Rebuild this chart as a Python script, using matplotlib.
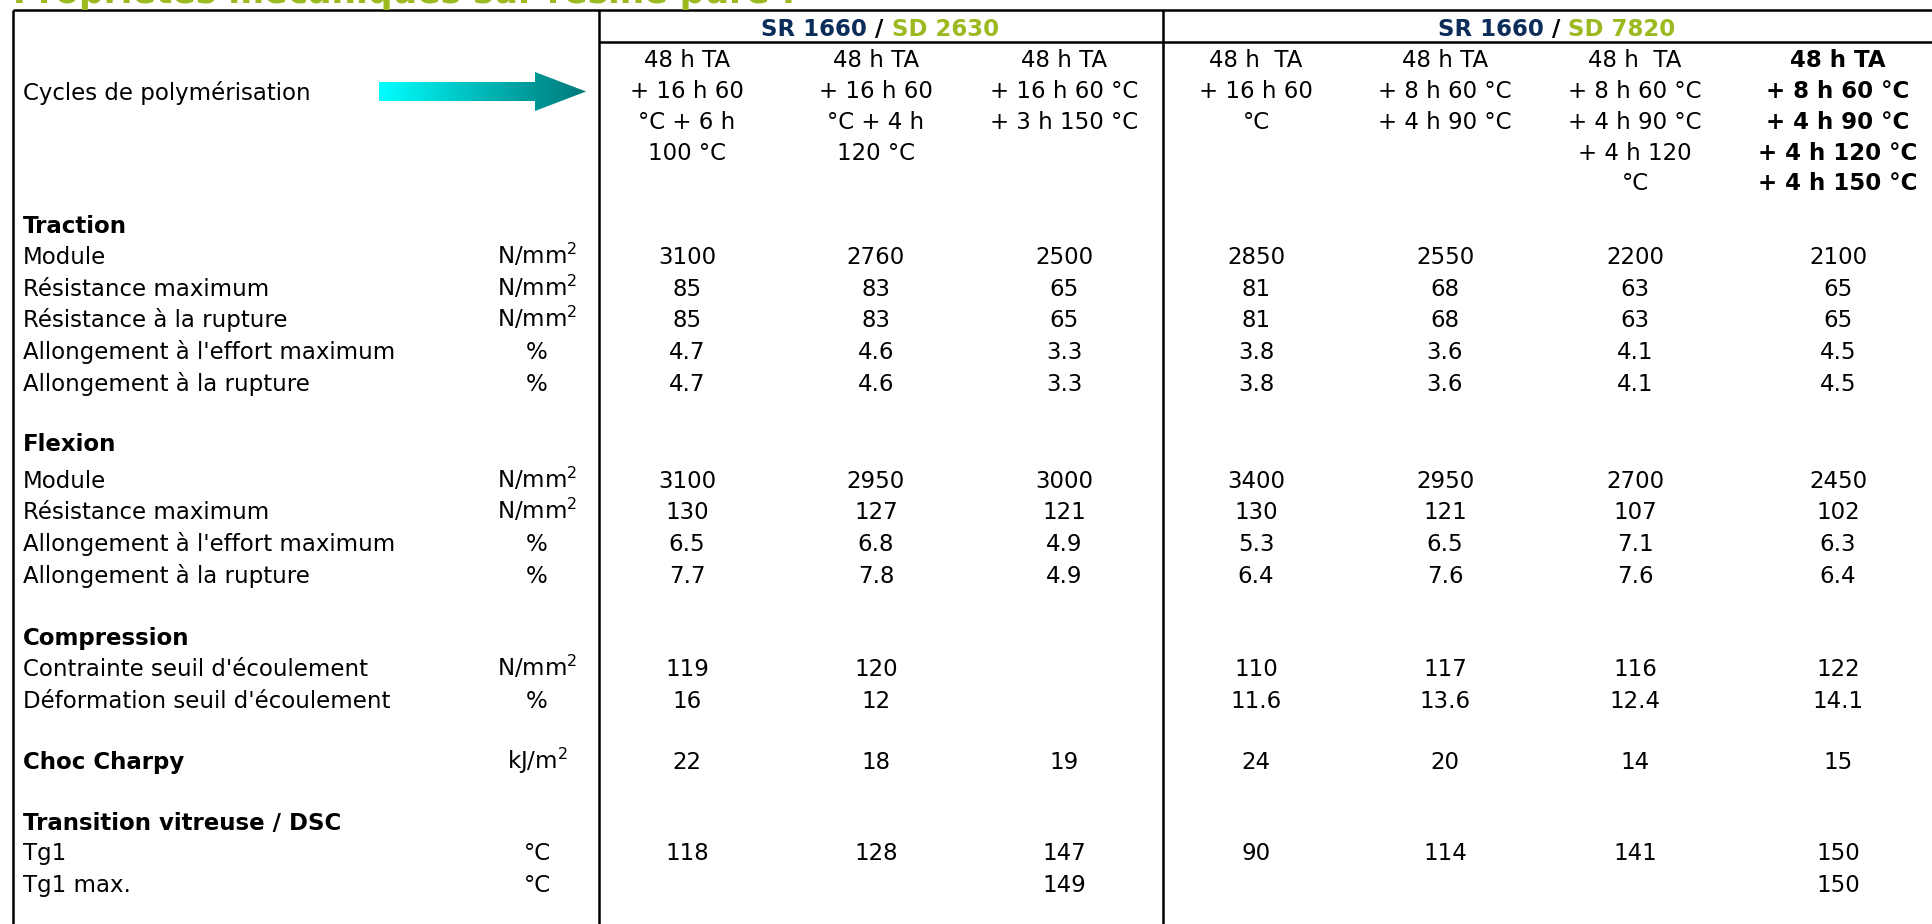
import matplotlib
matplotlib.use("Agg")
import matplotlib.pyplot as plt
import numpy as np
from matplotlib.patches import Polygon
from matplotlib.colors import LinearSegmentedColormap

# ---------------- data ----------------
TITLE = "Propriétés mécaniques sur résine pure :"
RESIN = "SR 1660"
HARDENERS = ["SD 2630", "SD 7820"]
ARROW_LABEL = "Cycles de polymérisation"

cycles = [
    ["48 h TA", "+ 16 h 60", "°C + 6 h", "100 °C"],
    ["48 h TA", "+ 16 h 60", "°C + 4 h", "120 °C"],
    ["48 h TA", "+ 16 h 60 °C", "+ 3 h 150 °C"],
    ["48 h  TA", "+ 16 h 60", "°C"],
    ["48 h TA", "+ 8 h 60 °C", "+ 4 h 90 °C"],
    ["48 h  TA", "+ 8 h 60 °C", "+ 4 h 90 °C", "+ 4 h 120", "°C"],
    ["48 h TA", "+ 8 h 60 °C", "+ 4 h 90 °C", "+ 4 h 120 °C", "+ 4 h 150 °C"],
]
bold_cycle = [False, False, False, False, False, False, True]

row_labels = ["Traction", "Module", "Résistance maximum", "Résistance à la rupture",
              "Allongement à l'effort maximum", "Allongement à la rupture",
              "Flexion", "Module", "Résistance maximum",
              "Allongement à l'effort maximum", "Allongement à la rupture",
              "Compression", "Contrainte seuil d'écoulement", "Déformation seuil d'écoulement",
              "Choc Charpy",
              "Transition vitreuse / DSC", "Tg1", "Tg1 max."]
row_bold = [True, False, False, False, False, False,
            True, False, False, False, False,
            True, False, False,
            True,
            True, False, False]
units = ["", "N/mm$^2$", "N/mm$^2$", "N/mm$^2$", "%", "%",
         "", "N/mm$^2$", "N/mm$^2$", "%", "%",
         "", "N/mm$^2$", "%",
         "kJ/m$^2$",
         "", "°C", "°C"]

traction_module = ["3100", "2760", "2500", "2850", "2550", "2200", "2100"]
traction_res_max = ["85", "83", "65", "81", "68", "63", "65"]
traction_res_rupt = ["85", "83", "65", "81", "68", "63", "65"]
traction_allong_max = ["4.7", "4.6", "3.3", "3.8", "3.6", "4.1", "4.5"]
traction_allong_rupt = ["4.7", "4.6", "3.3", "3.8", "3.6", "4.1", "4.5"]
flexion_module = ["3100", "2950", "3000", "3400", "2950", "2700", "2450"]
flexion_res_max = ["130", "127", "121", "130", "121", "107", "102"]
flexion_allong_max = ["6.5", "6.8", "4.9", "5.3", "6.5", "7.1", "6.3"]
flexion_allong_rupt = ["7.7", "7.8", "4.9", "6.4", "7.6", "7.6", "6.4"]
compression_contrainte = ["119", "120", "", "110", "117", "116", "122"]
compression_deformation = ["16", "12", "", "11.6", "13.6", "12.4", "14.1"]
choc_charpy = ["22", "18", "19", "24", "20", "14", "15"]
tg1 = ["118", "128", "147", "90", "114", "141", "150"]
tg1_max = ["", "", "149", "", "", "", "150"]
empty = [""] * 7

row_values = [empty, traction_module, traction_res_max, traction_res_rupt,
              traction_allong_max, traction_allong_rupt,
              empty, flexion_module, flexion_res_max, flexion_allong_max, flexion_allong_rupt,
              empty, compression_contrainte, compression_deformation,
              choc_charpy,
              empty, tg1, tg1_max]

# ---------------- layout ----------------
W, H = 1932, 924
NAVY = "#0C2D5A"
GREEN = "#9BBA1F"
FONT = "DejaVu Sans"
FS = 16.5
row_y = [225, 256, 288, 319, 351, 383, 443, 480, 511, 543, 575,
         637, 668, 700, 761, 822, 852, 884]
col_x = [687, 876, 1064, 1256, 1445, 1635, 1838]
cycle_y = [59, 90, 121, 152, 182]
group_x = [880, 1557]
label_x = 23
unit_x = 537
cap_half = 8

fig = plt.figure(figsize=(W / 100, H / 100), dpi=100)
ax = fig.add_axes([0, 0, 1, 1])
ax.set_xlim(0, W)
ax.set_ylim(H, 0)
ax.axis("off")
renderer = fig.canvas.get_renderer()

# title (cut at top edge, as in the reference)
t = ax.text(13, 3, TITLE, fontsize=20, fontweight="bold", color=GREEN,
            family=FONT, va="baseline", ha="left")
w = t.get_window_extent(renderer).width
t.set_fontsize(20 * 784 / w)

# grid lines
lw = 1.8
ax.plot([12.7, 12.7], [10, H], color="black", lw=lw, solid_capstyle="butt")
ax.plot([12.7, W], [10, 10], color="black", lw=lw, solid_capstyle="butt")
ax.plot([599, 599], [10, H], color="black", lw=lw, solid_capstyle="butt")
ax.plot([1163, 1163], [10, H], color="black", lw=lw, solid_capstyle="butt")
ax.plot([599, W], [42, 42], color="black", lw=lw, solid_capstyle="butt")

# group headers with coloured parts
for gx, hard in zip(group_x, HARDENERS):
    parts = [(RESIN, NAVY), (" / ", "black"), (hard, GREEN)]
    texts = []
    widths = []
    for s, c in parts:
        tt = ax.text(0, 27 + cap_half + 1, s, fontsize=FS, fontweight="bold", color=c,
                     family=FONT, va="baseline", ha="left")
        texts.append(tt)
        widths.append(tt.get_window_extent(renderer).width)
    x0 = gx - sum(widths) / 2
    for tt, wd in zip(texts, widths):
        tt.set_x(x0)
        x0 += wd

# arrow label + gradient arrow
ax.text(label_x, 92 + cap_half, ARROW_LABEL, fontsize=FS, family=FONT,
        va="baseline", ha="left")
arrow_pts = [(379, 82), (535, 82), (535, 72), (586, 91.5), (535, 111), (535, 101), (379, 101)]
poly = Polygon(arrow_pts, closed=True, facecolor="none", edgecolor="none")
ax.add_patch(poly)
cmap = LinearSegmentedColormap.from_list("arr", ["#00FFFF", "#00B8B8", "#007878"])
im = ax.imshow(np.linspace(0, 1, 256).reshape(1, -1), cmap=cmap,
               extent=[379, 586, 111, 72], aspect="auto", interpolation="bilinear")
im.set_clip_path(poly)
ax.set_xlim(0, W)
ax.set_ylim(H, 0)

# cycles header
for cx, lines, b in zip(col_x, cycles, bold_cycle):
    for ly, s in zip(cycle_y, lines):
        ax.text(cx, ly + cap_half, s, fontsize=FS, family=FONT, ha="center",
                va="baseline", fontweight="bold" if b else "normal")

# body rows
for y, lab, b, u, vals in zip(row_y, row_labels, row_bold, units, row_values):
    ax.text(label_x, y + cap_half, lab, fontsize=FS, family=FONT, ha="left",
            va="baseline", fontweight="bold" if b else "normal")
    if u:
        ax.text(unit_x, y + cap_half, u, fontsize=FS, family=FONT, ha="center",
                va="baseline")
    for cx, v in zip(col_x, vals):
        if v:
            ax.text(cx, y + cap_half, v, fontsize=FS, family=FONT, ha="center",
                    va="baseline")

fig.savefig("out.png", dpi=100)
